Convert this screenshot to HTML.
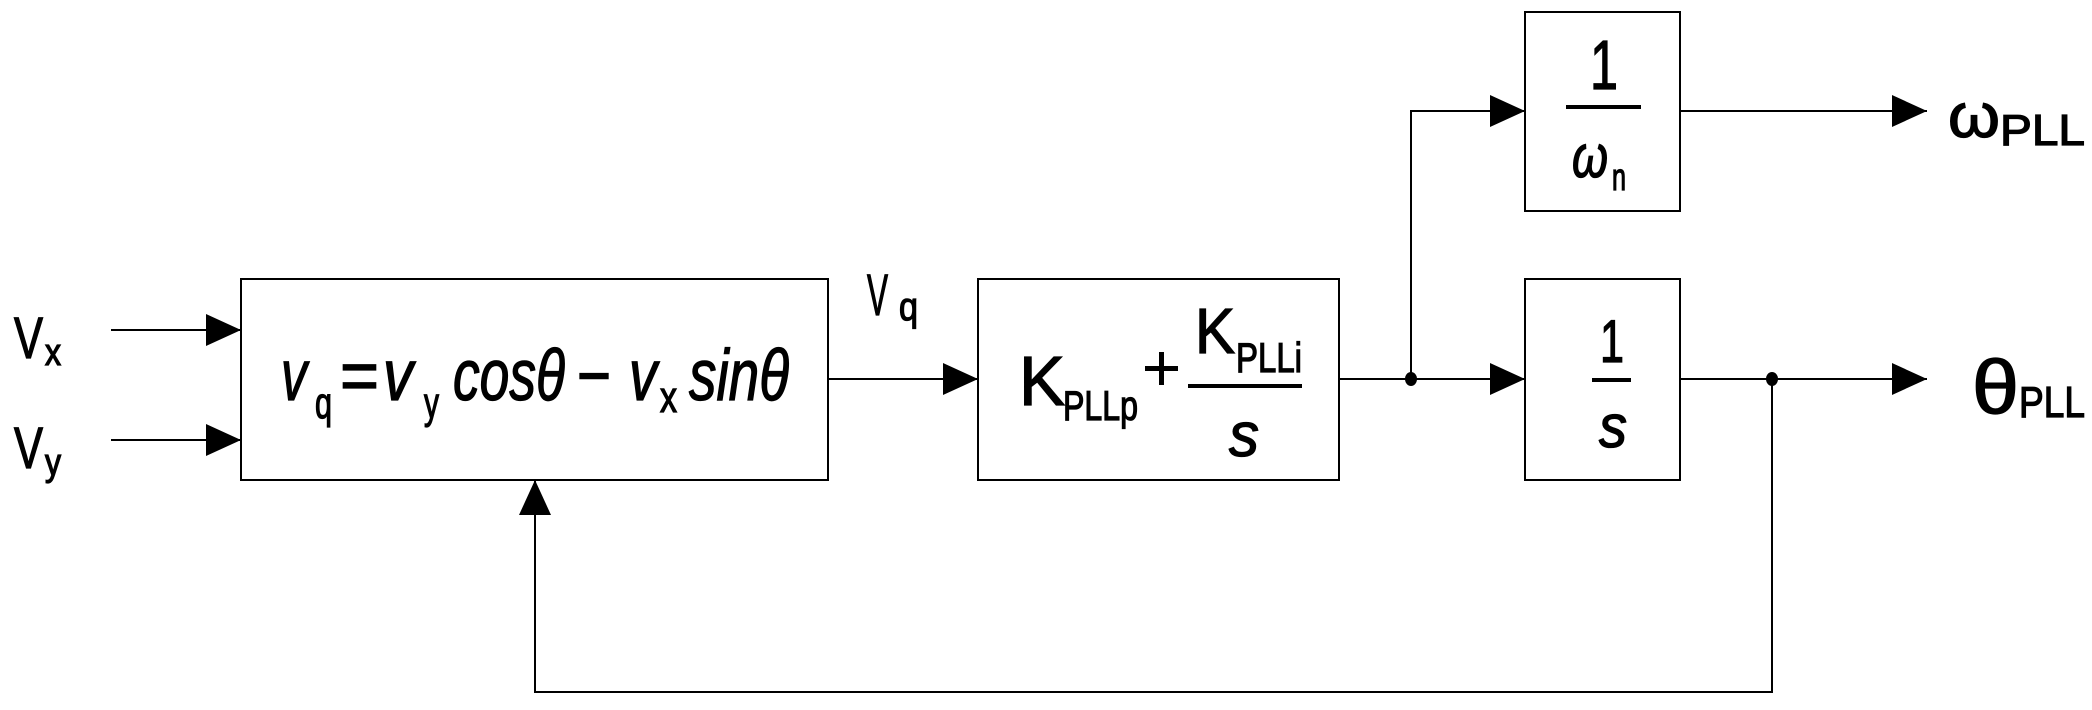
<!DOCTYPE html>
<html><head><meta charset="utf-8"><style>
html,body{margin:0;padding:0;background:#fff;}
svg{display:block;}
text{font-family:"Liberation Sans",Arial,sans-serif;fill:#000;stroke:#000;stroke-width:1.3px;}
</style></head><body>
<svg width="2092" height="710" viewBox="0 0 2092 710" xmlns="http://www.w3.org/2000/svg">
<g fill="none" stroke="#000" stroke-width="2">
<rect x="241" y="279" width="587" height="201"/>
<rect x="978" y="279" width="361" height="201"/>
<rect x="1525" y="12" width="155" height="199"/>
<rect x="1525" y="279" width="155" height="201"/>
<line x1="111" y1="330" x2="241" y2="330"/>
<line x1="111" y1="440" x2="241" y2="440"/>
<line x1="828" y1="379" x2="978" y2="379"/>
<line x1="1339" y1="379" x2="1525" y2="379"/>
<polyline points="1411,379 1411,111 1525,111"/>
<line x1="1680" y1="111" x2="1927" y2="111"/>
<line x1="1680" y1="379" x2="1927" y2="379"/>
<polyline points="1772,379 1772,692 535,692 535,480"/>
</g>
<g fill="#000">
<polygon points="241,330 206,314 206,346"/>
<polygon points="241,440 206,424 206,456"/>
<polygon points="978,379 943,363 943,395"/>
<polygon points="1525,379 1490,363 1490,395"/>
<polygon points="1525,111 1490,95 1490,127"/>
<polygon points="1927,111 1892,95 1892,127"/>
<polygon points="1927,379 1892,363 1892,395"/>
<polygon points="535,480 519,515 551,515"/>
<ellipse cx="1411" cy="379" rx="6" ry="7"/>
<ellipse cx="1772" cy="379" rx="6" ry="7"/>
<rect x="1566" y="105" width="75" height="4"/>
<rect x="1592" y="378" width="39" height="4"/>
<rect x="1188" y="384" width="114" height="4"/>
<rect x="1145" y="366" width="33" height="5"/>
<rect x="1159" y="352" width="5" height="33"/>
</g>
<text x="14" y="358" font-size="58" textLength="29" lengthAdjust="spacingAndGlyphs">V</text>
<text x="45" y="365" font-size="38" textLength="16" lengthAdjust="spacingAndGlyphs">x</text>
<text x="14" y="468" font-size="58" textLength="29" lengthAdjust="spacingAndGlyphs">V</text>
<text x="45" y="475" font-size="38" textLength="16" lengthAdjust="spacingAndGlyphs">y</text>
<text x="867" y="315" font-size="58" textLength="21" lengthAdjust="spacingAndGlyphs">V</text>
<text x="899" y="320" font-size="40" textLength="19" lengthAdjust="spacingAndGlyphs">q</text>
<g font-style="italic" font-size="72">
<text x="281" y="400" textLength="26" lengthAdjust="spacingAndGlyphs">v</text>
<text x="315" y="418" font-size="44" font-style="normal" textLength="17" lengthAdjust="spacingAndGlyphs">q</text>
<text x="340" y="400" font-style="normal" textLength="39" lengthAdjust="spacingAndGlyphs">=</text>
<text x="383" y="400" textLength="30" lengthAdjust="spacingAndGlyphs">v</text>
<text x="424" y="418" font-size="44" font-style="normal" textLength="15" lengthAdjust="spacingAndGlyphs">y</text>
<text x="453" y="400" textLength="112" lengthAdjust="spacingAndGlyphs">cosθ</text>
<text x="577" y="400" font-style="normal" textLength="34" lengthAdjust="spacingAndGlyphs">−</text>
<text x="629" y="400" textLength="28" lengthAdjust="spacingAndGlyphs">v</text>
<text x="660" y="412" font-size="44" font-style="normal" textLength="17" lengthAdjust="spacingAndGlyphs">x</text>
<text x="689" y="400" textLength="100" lengthAdjust="spacingAndGlyphs">sinθ</text>
</g>
<text x="1019" y="405" font-size="70" textLength="46" lengthAdjust="spacingAndGlyphs">K</text>
<text x="1063" y="420" font-size="42" textLength="75" lengthAdjust="spacingAndGlyphs">PLLp</text>
<text x="1195" y="353" font-size="64" textLength="40" lengthAdjust="spacingAndGlyphs">K</text>
<text x="1236" y="372" font-size="42" textLength="66" lengthAdjust="spacingAndGlyphs">PLLi</text>
<text x="1229" y="456" font-size="62" font-style="italic" textLength="30" lengthAdjust="spacingAndGlyphs">s</text>
<text x="1590" y="89" font-size="70" textLength="28" lengthAdjust="spacingAndGlyphs">1</text>
<text x="1572" y="177" font-size="60" font-style="italic" textLength="36" lengthAdjust="spacingAndGlyphs">ω</text>
<text x="1612" y="190" font-size="38" textLength="14" lengthAdjust="spacingAndGlyphs">n</text>
<text x="1600" y="362" font-size="60" textLength="24" lengthAdjust="spacingAndGlyphs">1</text>
<text x="1599" y="447" font-size="60" font-style="italic" textLength="28" lengthAdjust="spacingAndGlyphs">s</text>
<text x="1948" y="137" font-size="62" textLength="52" lengthAdjust="spacingAndGlyphs">ω</text>
<text x="2000" y="145" font-size="44" textLength="85" lengthAdjust="spacingAndGlyphs">PLL</text>
<text x="1972" y="413" font-size="76" textLength="47" lengthAdjust="spacingAndGlyphs">θ</text>
<text x="2019" y="417" font-size="44" textLength="66" lengthAdjust="spacingAndGlyphs">PLL</text>
</svg>
</body></html>
